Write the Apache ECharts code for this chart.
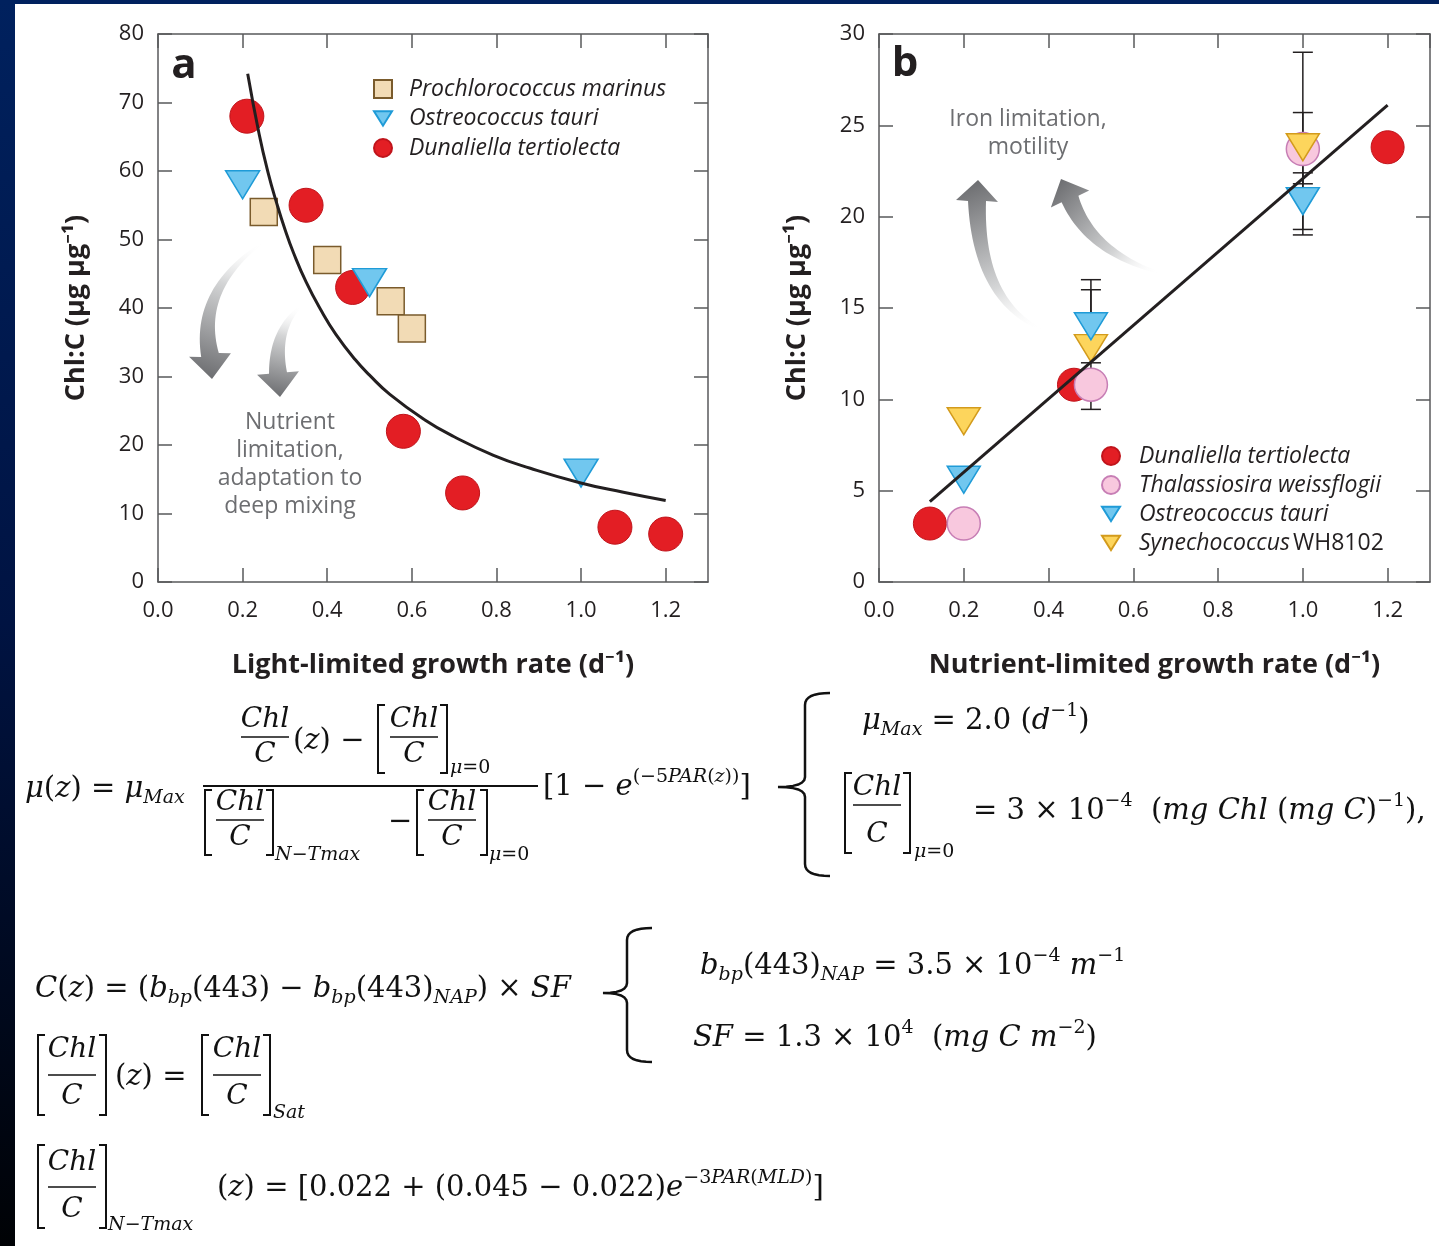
<!DOCTYPE html>
<html><head><meta charset="utf-8">
<script src="https://cdn.jsdelivr.net/npm/echarts@6/dist/echarts.min.js"></script>
<style>html,body{margin:0;padding:0;background:#fff}#c{width:1439px;height:1246px}</style>
</head><body><div id="c"></div>
<script>
// ---------------- DATA ----------------
// Panel a: Chl:C vs light-limited growth rate
const aProchlorococcus = [[0.25, 54], [0.40, 47], [0.55, 41], [0.60, 37]];
const aOstreococcus = [[0.20, 58], [0.50, 43.7], [1.00, 15.9]];
const aDunaliella = [[0.21, 68], [0.35, 55], [0.46, 43], [0.58, 22], [0.72, 13], [1.08, 8], [1.20, 7]];
const aFitCurve = [[0.212, 74.2], [0.239, 65.4], [0.26, 59.8], [0.281, 55.2], [0.300, 51.5], [0.320, 48.1],
  [0.35, 43.8], [0.385, 39.7], [0.42, 36.2], [0.467, 32.4], [0.50, 30.2], [0.548, 27.4], [0.630, 23.7],
  [0.70, 21.2], [0.793, 18.5], [0.88, 16.6], [0.997, 14.5], [1.10, 13.1], [1.200, 11.9]];
// Panel b: Chl:C vs nutrient-limited growth rate
const bDunaliella = [[0.12, 3.2], [0.46, 10.8], [1.20, 23.8]];
const bThalassiosira = [[0.20, 3.2], [0.50, 10.8], [1.00, 23.7]];
const bOstreococcus = [[0.20, 5.6], [0.50, 14.0], [1.00, 20.85]];
const bSynechococcus = [[0.20, 8.8], [0.50, 12.8], [1.00, 23.8]];
const bOstreococcusErr = [[0.50, 12.0, 16.0], [1.00, 19.3, 22.4]];
const bThalassiosiraErr = [[1.00, 21.8, 25.7]];
const bSynechococcusErr = [[0.50, 9.45, 16.55], [1.00, 19.0, 29.0]];
const bFitLine = [[0.12, 4.4], [1.20, 26.1]];
// tick labels
const xTickLabels = ['0.0', '0.2', '0.4', '0.6', '0.8', '1.0', '1.2'];
const yTickLabelsA = ['0', '10', '20', '30', '40', '50', '60', '70', '80'];
const yTickLabelsB = ['0', '5', '10', '15', '20', '25', '30'];

// ---------------- STYLE ----------------
const AX = '#58595b', TXT = '#231f20', SANS = "'Open Sans','Noto Sans',sans-serif";
const MF = "'DejaVu Serif',serif", EQ = '#111';
const RED = {color: '#e31e24', borderColor: '#c0141b', borderWidth: 1};
const BLUE = {color: '#71c7ef', borderColor: '#1f9bd7', borderWidth: 1.5};
const SQ = {color: '#f2dbb5', borderColor: '#7a5b2c', borderWidth: 1.5};
const PINK = {color: '#f8c8de', borderColor: '#c77eb5', borderWidth: 1.5};
const YEL = {color: '#fdd55c', borderColor: '#d39b1c', borderWidth: 1.5};
const TRI_DOWN = 'path://M0,0L20,0L10,16Z';
const SQUARE = 'path://M0,0L10,0L10,10L0,10Z';

function xAx(grid, pos, name) {
  return {
    type: 'value', gridIndex: grid, position: pos, min: 0, max: 1.3, interval: 0.2,
    axisLine: {show: true, onZero: false, lineStyle: {color: AX, width: 1.5}},
    axisTick: {show: true, inside: true, length: 14, lineStyle: {color: AX, width: 1.5}},
    axisLabel: {show: pos === 'bottom', fontSize: 22, color: TXT, fontFamily: SANS, margin: 18,
      showMaxLabel: false, formatter: v => xTickLabels[Math.round(v / 0.2)] ?? ''},
    splitLine: {show: false},
    name: name || '', nameLocation: 'middle', nameGap: 70,
    nameTextStyle: {fontSize: 27, fontWeight: 'bold', fontFamily: SANS, color: TXT}
  };
}
function yAx(grid, pos, max, step, labels, name) {
  return {
    type: 'value', gridIndex: grid, position: pos, min: 0, max: max, interval: step,
    axisLine: {show: true, onZero: false, lineStyle: {color: AX, width: 1.5}},
    axisTick: {show: true, inside: true, length: 14, lineStyle: {color: AX, width: 1.5}},
    axisLabel: {show: pos === 'left', fontSize: 22, color: TXT, fontFamily: SANS, margin: 14,
      formatter: v => labels[Math.round(v / step)] ?? ''},
    splitLine: {show: false},
    name: name || '', nameLocation: 'middle', nameGap: 68,
    nameTextStyle: {fontSize: 27, fontWeight: 'bold', fontFamily: SANS, color: TXT}
  };
}
const yTitle = 'Chl:C (μg μg⁻¹)';

const legendRich = {
  i: {fontStyle: 'italic', fontSize: 23, fontFamily: SANS, color: TXT, lineHeight: 22},
  n: {fontSize: 23, fontFamily: SANS, color: TXT, lineHeight: 22}
};
const legendFmt = name => name.indexOf('Synechococcus') === 0 ? '{i|Synechococcus} {n|WH8102}' : '{i|' + name + '}';

const errData = [].concat(bOstreococcusErr, bThalassiosiraErr, bSynechococcusErr);

// ---------------- GRAPHICS (annotations & equations) ----------------
const R = {
  i: {fontFamily: MF, fontStyle: 'italic', fontSize: 29, fill: EQ},
  n: {fontFamily: MF, fontSize: 29, fill: EQ},
  si: {fontFamily: MF, fontStyle: 'italic', fontSize: 19, fill: EQ, padding: [18, 0, 0, 0]},
  sn: {fontFamily: MF, fontSize: 19, fill: EQ, padding: [18, 0, 0, 0]},
  pi: {fontFamily: MF, fontStyle: 'italic', fontSize: 19, fill: EQ, padding: [0, 0, 20, 0]},
  pn: {fontFamily: MF, fontSize: 19, fill: EQ, padding: [0, 0, 20, 0]},
  ti: {fontFamily: MF, fontStyle: 'italic', fontSize: 19, fill: EQ},
  tn: {fontFamily: MF, fontSize: 19, fill: EQ}
};
function T(x, y, str, align) {
  return {type: 'text', x: x, y: y, z: 100, style: {text: str, rich: R, fill: EQ,
    align: align || 'left', textAlign: align || 'left', verticalAlign: 'middle', textVerticalAlign: 'middle'}};
}
function frac(cx, yN, yBar, yD, w) {
  const f = "italic 28px " + MF;
  return [
    {type: 'text', x: cx, y: yN, z: 100, style: {text: 'Chl', font: f, fill: EQ, align: 'center', textAlign: 'center', verticalAlign: 'middle', textVerticalAlign: 'middle'}},
    {type: 'line', z: 100, shape: {x1: cx - w / 2, y1: yBar, x2: cx + w / 2, y2: yBar}, style: {stroke: EQ, lineWidth: 1.6}},
    {type: 'text', x: cx, y: yD, z: 100, style: {text: 'C', font: f, fill: EQ, align: 'center', textAlign: 'center', verticalAlign: 'middle', textVerticalAlign: 'middle'}}
  ];
}
function brk(xL, xR, yT, yB) {
  const s = 7;
  const st = {stroke: EQ, lineWidth: 2, fill: null};
  return [
    {type: 'polyline', z: 100, shape: {points: [[xL + s, yT], [xL, yT], [xL, yB], [xL + s, yB]]}, style: st},
    {type: 'polyline', z: 100, shape: {points: [[xR - s, yT], [xR, yT], [xR, yB], [xR - s, yB]]}, style: st}
  ];
}
function quad(p0, c, p1, n) {
  const pts = [];
  for (let k = 0; k <= n; k++) {
    const t = k / n;
    pts.push([(1 - t) * (1 - t) * p0[0] + 2 * (1 - t) * t * c[0] + t * t * p1[0],
              (1 - t) * (1 - t) * p0[1] + 2 * (1 - t) * t * c[1] + t * t * p1[1]]);
  }
  return pts;
}
function brace(xN, xV, xR, yT, yM, yB) {
  let pts = [];
  pts = pts.concat(quad([xR, yT], [xV, yT], [xV, yT + 12], 8));
  pts = pts.concat(quad([xV, yM - 10], [xV, yM], [xN, yM], 6));
  pts = pts.concat(quad([xN, yM], [xV, yM], [xV, yM + 10], 6));
  pts = pts.concat(quad([xV, yB - 12], [xV, yB], [xR, yB], 8));
  return {type: 'polyline', z: 100, shape: {points: pts}, style: {stroke: EQ, lineWidth: 2.5, fill: null}};
}
function arrow(p0, c, p2, tip, w0, w1, hw) {
  const N = 30, L = [], Rr = [];
  for (let k = 0; k <= N; k++) {
    const t = k / N;
    const x = (1 - t) * (1 - t) * p0[0] + 2 * (1 - t) * t * c[0] + t * t * p2[0];
    const y = (1 - t) * (1 - t) * p0[1] + 2 * (1 - t) * t * c[1] + t * t * p2[1];
    const dx = 2 * (1 - t) * (c[0] - p0[0]) + 2 * t * (p2[0] - c[0]);
    const dy = 2 * (1 - t) * (c[1] - p0[1]) + 2 * t * (p2[1] - c[1]);
    const l = Math.hypot(dx, dy), nx = -dy / l, ny = dx / l, w = (w0 + (w1 - w0) * t) / 2;
    L.push([x + nx * w, y + ny * w]); Rr.push([x - nx * w, y - ny * w]);
  }
  const dx = tip[0] - p2[0], dy = tip[1] - p2[1], l = Math.hypot(dx, dy), nx = -dy / l, ny = dx / l;
  const pts = L.concat([[p2[0] + nx * hw, p2[1] + ny * hw], tip, [p2[0] - nx * hw, p2[1] - ny * hw]], Rr.reverse());
  return {type: 'polygon', z: 5, shape: {points: pts},
    style: {fill: new echarts.graphic.LinearGradient(p0[0], p0[1], tip[0], tip[1],
      [{offset: 0, color: 'rgba(255,255,255,0)'}, {offset: 0.35, color: '#d4d5d6'}, {offset: 1, color: '#6d6e71'}], true)}};
}

const graphics = [
  {type: 'rect', z: 0, shape: {x: 0, y: 0, width: 15, height: 1246},
    style: {fill: new echarts.graphic.LinearGradient(0, 0, 0, 1246, [{offset: 0, color: '#00215e'}, {offset: 0.5, color: '#001342'}, {offset: 1, color: '#000205'}], true)}},
  {type: 'rect', z: 0, shape: {x: 0, y: 0, width: 1439, height: 4}, style: {fill: '#00215e'}},
  // panel letters
  {type: 'text', x: 184, y: 66, z: 50, style: {text: 'a', font: "bold 42px " + SANS, fill: TXT, align: 'center', textAlign: 'center', verticalAlign: 'middle', textVerticalAlign: 'middle'}},
  {type: 'text', x: 905, y: 64, z: 50, style: {text: 'b', font: "bold 42px " + SANS, fill: TXT, align: 'center', textAlign: 'center', verticalAlign: 'middle', textVerticalAlign: 'middle'}},
  // annotations
  {type: 'text', x: 290, y: 464, z: 50, style: {text: 'Nutrient\nlimitation,\nadaptation to\ndeep mixing', font: "23px " + SANS, lineHeight: 28, fill: '#6d6e71', align: 'center', textAlign: 'center', verticalAlign: 'middle', textVerticalAlign: 'middle'}},
  {type: 'text', x: 1028, y: 133, z: 50, style: {text: 'Iron limitation,\nmotility', font: "23px " + SANS, lineHeight: 28, fill: '#6d6e71', align: 'center', textAlign: 'center', verticalAlign: 'middle', textVerticalAlign: 'middle'}},
  arrow([262, 243], [196, 290], [210, 355], [212, 379], 2, 18, 21),
  arrow([301, 306], [274, 330], [278, 373], [280, 397], 2, 18, 21),
  arrow([1042, 330], [978, 300], [977, 201], [978, 180], 2, 18, 21),
  arrow([1160, 273], [1090, 252], [1070, 199], [1061, 179], 2, 18, 21),
  // ---- equation 1
  T(25, 789, '{i|μ}{n|(}{i|z}{n|) = }{i|μ}{si|Max}'),
  ...frac(265, 720, 737, 755, 48),
  T(293, 741, '{n|(}{i|z}{n|) −}'),
  ...brk(378, 447, 705, 773),
  ...frac(414, 720, 737, 755, 48),
  T(450, 768, '{ti|μ}{tn|=0}'),
  {type: 'line', z: 100, shape: {x1: 203, y1: 786, x2: 538, y2: 786}, style: {stroke: EQ, lineWidth: 1.8}},
  ...brk(205, 273, 790, 855),
  ...frac(240, 803, 820, 838, 48),
  T(275, 855, '{ti|N}{tn|−}{ti|Tmax}'),
  T(388, 822, '{n|−}'),
  ...brk(417, 487, 790, 855),
  ...frac(452, 803, 820, 838, 48),
  T(489, 855, '{ti|μ}{tn|=0}'),
  T(543, 787, '{n|[1 − }{i|e}{pn|(−5}{pi|PAR}{pn|(}{pi|z}{pn|))}{n|]}'),
  brace(778, 805, 830, 693, 787, 876),
  T(862, 721, '{i|μ}{si|Max}{n| = 2.0 (}{i|d}{pn|−1}{n|)}'),
  ...brk(845, 910, 773, 853),
  ...frac(877, 788, 805, 835, 48),
  T(914, 852, '{ti|μ}{tn|=0}'),
  T(973, 811, '{n|= 3 × 10}{pn|−4}{n|  (}{i|mg Chl }{n|(}{i|mg C}{n|)}{pn|−1}{n|),}'),
  // ---- equation 2
  T(35, 989, '{i|C}{n|(}{i|z}{n|) = (}{i|b}{si|bp}{n|(443) − }{i|b}{si|bp}{n|(443)}{si|NAP}{n|) × }{i|SF}'),
  brace(603, 627, 652, 928, 993, 1062),
  T(700, 966, '{i|b}{si|bp}{n|(443)}{si|NAP}{n| = 3.5 × 10}{pn|−4}{i| m}{pn|−1}'),
  T(693, 1038, '{i|SF}{n| = 1.3 × 10}{pn|4}{n|  (}{i|mg C m}{pn|−2}{n|)}'),
  ...brk(38, 106, 1035, 1115),
  ...frac(72, 1050, 1075, 1097, 48),
  T(115, 1077, '{n|(}{i|z}{n|) =}'),
  ...brk(202, 270, 1035, 1115),
  ...frac(237, 1050, 1075, 1097, 48),
  T(273, 1113, '{ti|Sat}'),
  ...brk(38, 106, 1145, 1228),
  ...frac(72, 1163, 1187, 1210, 48),
  T(108, 1225, '{ti|N}{tn|−}{ti|Tmax}'),
  T(217, 1188, '{n|(}{i|z}{n|) = [0.022 + (0.045 − 0.022)}{i|e}{pn|−3}{pi|PAR}{pn|(}{pi|MLD}{pn|)}{n|]}')
];

// ---------------- CHART ----------------
const chart = echarts.init(document.getElementById('c'), null, {renderer: 'canvas', width: 1439, height: 1246});
const sym = (name, data, xi, yi, symbol, size, style, rot, z) => ({
  type: 'scatter', name: name, data: data, xAxisIndex: xi, yAxisIndex: yi, symbol: symbol, symbolSize: size,
  symbolRotate: rot || 0, itemStyle: Object.assign({opacity: 1}, style), z: z
});
chart.setOption({
  animation: false,
  backgroundColor: '#ffffff',
  textStyle: {fontFamily: SANS},
  grid: [
    {left: 158, top: 34, width: 550, height: 548},
    {left: 879, top: 34, width: 551, height: 548}
  ],
  xAxis: [xAx(0, 'bottom', 'Light-limited growth rate (d⁻¹)'), xAx(0, 'top'),
          xAx(1, 'bottom', 'Nutrient-limited growth rate (d⁻¹)'), xAx(1, 'top')],
  yAxis: [yAx(0, 'left', 80, 10, yTickLabelsA, yTitle), yAx(0, 'right', 80, 10, yTickLabelsA),
          yAx(1, 'left', 30, 5, yTickLabelsB, yTitle), yAx(1, 'right', 30, 5, yTickLabelsB)],
  legend: [
    {data: [{name: 'Prochlorococcus marinus', icon: SQUARE}, {name: 'Ostreococcus tauri', icon: TRI_DOWN}, {name: 'Dunaliella tertiolecta', icon: 'circle'}],
      orient: 'vertical', left: 373, top: 77.5, padding: 0, itemWidth: 18, itemHeight: 18, itemGap: 6.5,
      formatter: legendFmt, textStyle: {padding: [0, 0, 0, 12], rich: legendRich}, selectedMode: false},
    {data: [{name: 'Dunaliella tertiolecta', icon: 'circle'}, {name: 'Thalassiosira weissflogii', icon: 'circle'},
            {name: 'Ostreococcus tauri', icon: TRI_DOWN}, {name: 'Synechococcus WH8102', icon: TRI_DOWN}],
      orient: 'vertical', left: 1101, top: 444.5, padding: 0, itemWidth: 18, itemHeight: 18, itemGap: 6,
      formatter: legendFmt, textStyle: {padding: [0, 0, 0, 14], rich: legendRich}, selectedMode: false}
  ],
  series: [
    sym('Dunaliella tertiolecta', aDunaliella, 0, 0, 'circle', 34, RED, 0, 2),
    sym('Prochlorococcus marinus', aProchlorococcus, 0, 0, 'rect', 27, SQ, 0, 3),
    sym('Ostreococcus tauri', aOstreococcus, 0, 0, 'triangle', [34, 28], BLUE, 180, 4),
    {type: 'line', data: aFitCurve, xAxisIndex: 0, yAxisIndex: 0, smooth: 0.5, showSymbol: false, symbol: 'none',
      lineStyle: {color: TXT, width: 3}, z: 10, silent: true},
    {type: 'custom', data: errData, xAxisIndex: 2, yAxisIndex: 2, z: 1, silent: true,
      encode: {x: 0, y: [1, 2]},
      renderItem: (params, api) => {
        const x = api.value(0), p1 = api.coord([x, api.value(1)]), p2 = api.coord([x, api.value(2)]);
        const st = {stroke: TXT, lineWidth: 1.5};
        return {type: 'group', children: [
          {type: 'line', shape: {x1: p1[0], y1: p1[1], x2: p2[0], y2: p2[1]}, style: st},
          {type: 'line', shape: {x1: p1[0] - 10, y1: p1[1], x2: p1[0] + 10, y2: p1[1]}, style: st},
          {type: 'line', shape: {x1: p2[0] - 10, y1: p2[1], x2: p2[0] + 10, y2: p2[1]}, style: st}
        ]};
      }},
    sym('Dunaliella tertiolecta', bDunaliella, 2, 2, 'circle', 33, RED, 0, 2),
    sym('Thalassiosira weissflogii', bThalassiosira, 2, 2, 'circle', 33, PINK, 0, 3),
    sym('Synechococcus WH8102', bSynechococcus, 2, 2, 'triangle', [33, 27], YEL, 180, 4),
    sym('Ostreococcus tauri', bOstreococcus, 2, 2, 'triangle', [33, 27], BLUE, 180, 5),
    {type: 'line', data: bFitLine, xAxisIndex: 2, yAxisIndex: 2, showSymbol: false, symbol: 'none',
      lineStyle: {color: TXT, width: 3}, z: 10, silent: true}
  ],
  graphic: graphics
});
</script></body></html>
